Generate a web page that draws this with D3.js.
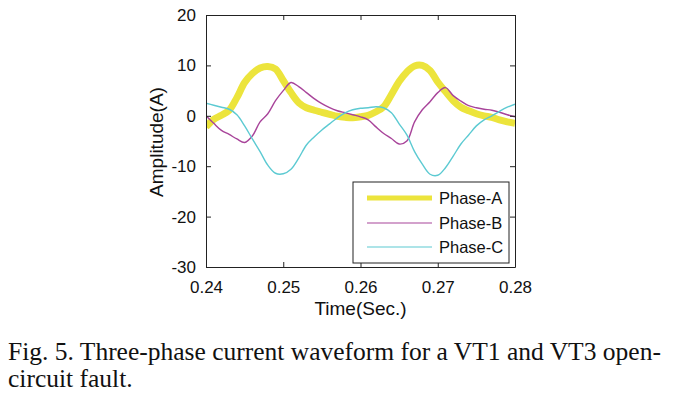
<!DOCTYPE html>
<html><head><meta charset="utf-8">
<script src="https://cdn.jsdelivr.net/npm/d3@7"></script>
<style>body{margin:0;background:#fff;} svg{display:block;}</style>
</head><body>
<svg id="chart" width="684" height="400"></svg>
<script>
// time samples in ms after 0.24 s
const timeMs = d3.range(0, 41, 1);
const phaseA = [-2.2,-0.7,0.1,1.1,3.6,6.6,8.4,9.5,9.8,9.3,7.0,4.6,2.6,1.6,1.1,0.7,0.3,-0.1,-0.3,-0.4,-0.2,0.1,0.8,1.8,4.2,6.8,8.7,9.9,10.0,9.0,6.7,4.8,3.0,1.7,1.0,0.4,0.0,-0.3,-0.8,-1.2,-1.5];
const phaseB = [0.0,-1.5,-2.9,-3.7,-4.6,-5.3,-4.0,-1.2,0.4,3.0,5.0,6.6,5.8,4.6,3.4,2.4,1.6,1.0,0.6,0.2,-0.2,-0.8,-2.2,-3.5,-4.5,-5.6,-5.0,-1.2,1.2,2.8,4.6,5.6,4.0,2.9,2.0,1.6,1.3,1.1,0.7,0.2,-0.2];
const phaseC = [2.5,2.1,1.7,1.3,0.2,-2.0,-4.6,-7.1,-9.8,-11.4,-11.5,-10.6,-8.4,-5.8,-4.2,-2.8,-1.6,-0.4,0.6,1.2,1.5,1.6,1.8,1.6,0.6,-1.6,-3.8,-7.1,-9.6,-11.6,-11.8,-10.3,-8.0,-5.6,-3.8,-2.0,-0.8,0.0,0.9,1.7,2.3];
const seriesNames = ["Phase-A","Phase-B","Phase-C"];
const seriesColors = ["#ece43c","#a8449a","#5ccad2"];
const xTicks = [0.24,0.25,0.26,0.27,0.28];
const yTicks = [-30,-20,-10,0,10,20];
const xLabel = "Time(Sec.)";
const yLabel = "Amplitude(A)";
const caption = ["Fig. 5. Three-phase current waveform for a VT1 and VT3 open-","circuit fault."];

const svg = d3.select("#chart");
const L = 206, R = 515, T = 15, B = 267;
const x = d3.scaleLinear().domain([0.24,0.28]).range([L,R]);
const y = d3.scaleLinear().domain([-30,20]).range([B,T]);
const font = "'Liberation Sans', Arial, sans-serif";

const data = [phaseA, phaseB, phaseC].map(arr => arr.map((v,i)=>({t:0.24+timeMs[i]/1000, v})));
const widths = [7, 1.4, 1.4];
const line = d3.line().x(d=>x(d.t)).y(d=>y(d.v)).curve(d3.curveCatmullRom.alpha(0.5));

svg.append("defs").append("clipPath").attr("id","clip").append("rect")
  .attr("x",L).attr("y",T).attr("width",R-L).attr("height",B-T);
const g = svg.append("g").attr("clip-path","url(#clip)");
data.forEach((d,i)=>{
  g.append("path").datum(d).attr("d",line).attr("fill","none")
   .attr("stroke",seriesColors[i]).attr("stroke-width",widths[i]).attr("stroke-linejoin","round");
});

// axes (ticks inside, box)
const axCol = "#222";
const axB = svg.append("g").attr("transform",`translate(0,${B})`)
  .call(d3.axisBottom(x).tickValues(xTicks).tickSizeInner(-5).tickSizeOuter(0).tickPadding(14).tickFormat(d3.format(".2f")));
const axT = svg.append("g").attr("transform",`translate(0,${T})`)
  .call(d3.axisTop(x).tickValues(xTicks).tickSizeInner(-5).tickSizeOuter(0).tickFormat(""));
const axL = svg.append("g").attr("transform",`translate(${L},0)`)
  .call(d3.axisLeft(y).tickValues(yTicks).tickSizeInner(-5).tickSizeOuter(0).tickPadding(10).tickFormat(d=>String(d)));
const axR = svg.append("g").attr("transform",`translate(${R},0)`)
  .call(d3.axisRight(y).tickValues(yTicks).tickSizeInner(-5).tickSizeOuter(0).tickFormat(""));
[axB,axT,axL,axR].forEach(a=>{
  a.selectAll("path").attr("stroke",axCol).attr("stroke-width",1);
  a.selectAll("line").attr("stroke",axCol);
  a.selectAll("text").attr("font-family",font).attr("font-size",17).attr("fill","#111");
});

svg.append("text").attr("x",(L+R)/2).attr("y",315).attr("text-anchor","middle")
  .attr("font-family",font).attr("font-size",19).attr("fill","#111").text(xLabel);
svg.append("text").attr("transform",`translate(163,${(T+B)/2+1}) rotate(-90)`).attr("text-anchor","middle")
  .attr("font-family",font).attr("font-size",19).attr("fill","#111").text(yLabel);

// legend
const lg = svg.append("g");
lg.append("rect").attr("x",353).attr("y",182).attr("width",156).attr("height",81)
  .attr("fill","#fff").attr("stroke",axCol).attr("stroke-width",1);
const rows = [198,223,247];
seriesNames.forEach((n,i)=>{
  lg.append("line").attr("x1",367).attr("x2",432).attr("y1",rows[i]).attr("y2",rows[i])
    .attr("stroke",seriesColors[i]).attr("stroke-width",i===0?5:1.2);
  lg.append("text").attr("x",439).attr("y",rows[i]+6).attr("font-family",font).attr("font-size",16.5)
    .attr("fill","#111").text(n);
});

// caption
caption.forEach((c,i)=>{
  svg.append("text").attr("x",8).attr("y",360+i*27).attr("font-family","'Liberation Serif','Times New Roman',serif")
    .attr("font-size",25.5).attr("fill","#111").text(c);
});
</script>
</body></html>
